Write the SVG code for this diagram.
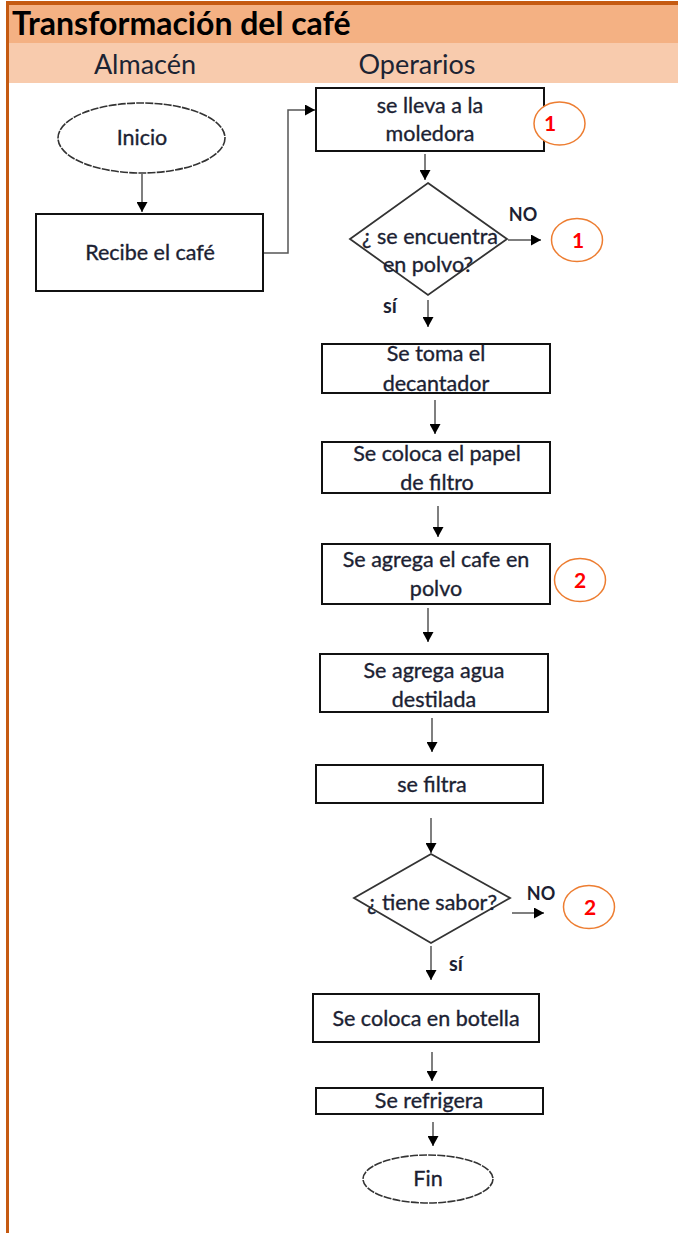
<svg xmlns="http://www.w3.org/2000/svg" width="678" height="1233" viewBox="0 0 678 1233">
  <defs>
    <marker id="arrow" markerUnits="userSpaceOnUse" markerWidth="11" markerHeight="11" refX="10" refY="5.5" orient="auto">
      <path d="M0,0 L10,5.5 L0,11 z" fill="#000"/>
    </marker>
    <style>
      .lbl { font-family: Lato, "Open Sans", "Liberation Sans", sans-serif; font-size: 21.5px; fill: #1c1f33; stroke: #1c1f33; stroke-width: 0.35; text-anchor: middle; }
      .hdr { font-family: Lato, "Open Sans", "Liberation Sans", sans-serif; font-size: 27px; fill: #1c2433; text-anchor: middle; }
      .yn { font-family: Lato, "Open Sans", "Liberation Sans", sans-serif; font-size: 18px; font-weight: bold; fill: #1c1f33; text-anchor: middle; }
      .si { font-size: 20px; }
      .num { font-family: Lato, "Open Sans", "Liberation Sans", sans-serif; font-size: 21px; font-weight: bold; fill: #ff0000; text-anchor: middle; }
      .box { fill: #fff; stroke: #111; stroke-width: 2; }
      .term { fill: #fff; stroke: #333; stroke-width: 1.6; stroke-dasharray: 8 1.2; }
      .dec { fill: #fff; stroke: #333; stroke-width: 1.8; }
      .ref { fill: #fff; stroke: #ed7d31; stroke-width: 1.5; }
      .edge { fill: none; stroke: #555; stroke-width: 1.5; marker-end: url(#arrow); }
    </style>
  </defs>

  <!-- page background and pool frame -->
  <rect x="0" y="0" width="678" height="1233" fill="#fff"/>
  <rect x="9" y="5" width="669" height="38" fill="#f4b183"/>
  <rect x="9" y="43" width="669" height="40" fill="#f8cbad"/>
  <rect x="6" y="1" width="672" height="4" fill="#c55a11"/>
  <rect x="6" y="1" width="3" height="1232" fill="#c55a11"/>

  <text x="12" y="35" font-family="Lato, 'Open Sans', 'Liberation Sans', sans-serif" font-size="32" font-weight="bold" fill="#000">Transformación del café</text>
  <text class="hdr" x="145" y="74">Almacén</text>
  <text class="hdr" x="417" y="74">Operarios</text>

  <!-- connectors -->
  <g id="connectors">
    <line class="edge" x1="142" y1="174" x2="142" y2="212"/>
    <polyline class="edge" points="263,253 288,253 288,110 315,110"/>
    <line class="edge" x1="425" y1="154" x2="425" y2="180"/>
    <line class="edge" x1="508" y1="240" x2="541" y2="240"/>
    <line class="edge" x1="428" y1="300" x2="428" y2="327"/>
    <line class="edge" x1="435" y1="400" x2="435" y2="434"/>
    <line class="edge" x1="438" y1="506" x2="438" y2="537"/>
    <line class="edge" x1="428" y1="608" x2="428" y2="642"/>
    <line class="edge" x1="432" y1="718" x2="432" y2="752"/>
    <line class="edge" x1="431" y1="818" x2="431" y2="853"/>
    <line class="edge" x1="512" y1="913" x2="544" y2="913"/>
    <line class="edge" x1="431" y1="946" x2="431" y2="980"/>
    <line class="edge" x1="432" y1="1052" x2="432" y2="1081"/>
    <line class="edge" x1="433" y1="1122" x2="433" y2="1146"/>
    <text class="yn" x="523" y="221">NO</text>
    <text class="yn si" x="390" y="313">sí</text>
    <text class="yn" x="541" y="900">NO</text>
    <text class="yn si" x="456" y="971">sí</text>
  </g>

  <!-- nodes -->
  <g id="inicio">
    <ellipse class="term" cx="141.5" cy="138" rx="83.5" ry="35"/>
    <text class="lbl" x="142" y="145">Inicio</text>
  </g>
  <g id="recibe">
    <rect class="box" x="36" y="214" width="227" height="77"/>
    <text class="lbl" x="150" y="260">Recibe el café</text>
  </g>
  <g id="moledora">
    <rect class="box" x="316" y="88" width="228" height="63"/>
    <text class="lbl" x="430" y="113">se lleva a la</text>
    <text class="lbl" x="430" y="141">moledora</text>
  </g>
  <g id="ref1a">
    <ellipse class="ref" cx="559.5" cy="123.5" rx="25.5" ry="21.5"/>
    <text class="num" x="550" y="131">1</text>
  </g>
  <g id="polvo">
    <polygon class="dec" points="428,183 507,239 428,295 350,239"/>
    <text class="lbl" x="430" y="244">¿ se encuentra</text>
    <text class="lbl" x="428" y="272">en polvo?</text>
  </g>
  <g id="ref1b">
    <ellipse class="ref" cx="577" cy="240" rx="25.5" ry="21.5"/>
    <text class="num" x="578" y="248">1</text>
  </g>
  <g id="decantador">
    <rect class="box" x="322" y="344" width="228" height="49"/>
    <text class="lbl" x="436" y="361">Se toma el</text>
    <text class="lbl" x="436" y="391">decantador</text>
  </g>
  <g id="papel">
    <rect class="box" x="322" y="442" width="228" height="51"/>
    <text class="lbl" x="437" y="461">Se coloca el papel</text>
    <text class="lbl" x="437" y="490">de filtro</text>
  </g>
  <g id="cafe-polvo">
    <rect class="box" x="322" y="544" width="228" height="60"/>
    <text class="lbl" x="436" y="567">Se agrega el cafe en</text>
    <text class="lbl" x="436" y="596">polvo</text>
  </g>
  <g id="ref2a">
    <ellipse class="ref" cx="580" cy="580" rx="25.5" ry="21.5"/>
    <text class="num" x="580" y="588">2</text>
  </g>
  <g id="agua">
    <rect class="box" x="320" y="654" width="228" height="58"/>
    <text class="lbl" x="434" y="678">Se agrega agua</text>
    <text class="lbl" x="434" y="707">destilada</text>
  </g>
  <g id="filtra">
    <rect class="box" x="316" y="765" width="227" height="38"/>
    <text class="lbl" x="432" y="792">se filtra</text>
  </g>
  <g id="sabor">
    <polygon class="dec" points="431,854 510,898 431,943 354,898"/>
    <text class="lbl" x="432" y="910">¿ tiene sabor?</text>
  </g>
  <g id="ref2b">
    <ellipse class="ref" cx="589" cy="907" rx="25.5" ry="21.5"/>
    <text class="num" x="590" y="915">2</text>
  </g>
  <g id="botella">
    <rect class="box" x="313" y="994" width="226" height="48"/>
    <text class="lbl" x="426" y="1026">Se coloca en botella</text>
  </g>
  <g id="refrigera">
    <rect class="box" x="316" y="1088" width="227" height="26"/>
    <text class="lbl" x="429" y="1108">Se refrigera</text>
  </g>
  <g id="fin">
    <ellipse class="term" cx="428" cy="1179" rx="65" ry="24"/>
    <text class="lbl" x="428" y="1186">Fin</text>
  </g>
</svg>
